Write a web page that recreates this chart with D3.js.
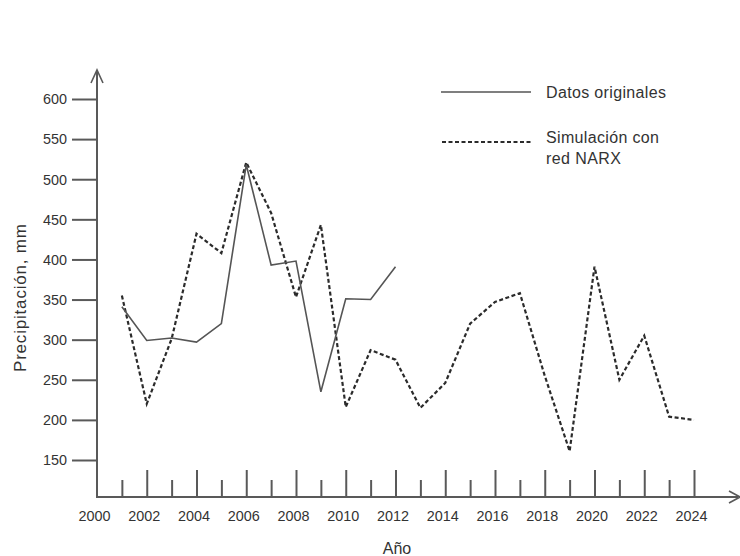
<!DOCTYPE html>
<html>
<head>
<meta charset="utf-8">
<script src="https://cdn.jsdelivr.net/npm/d3@7"></script>
<style>
  html, body { margin: 0; padding: 0; background: #fff; }
  svg { display: block; }
  text { font-family: "Liberation Sans", Arial, sans-serif; fill: #333; }
</style>
</head>
<body>
<svg id="chart" width="740" height="556"></svg>
<script>
// ---- Data ----
const originalYears = [2001, 2002, 2003, 2004, 2005, 2006, 2007, 2008, 2009, 2010, 2011, 2012];
const originalValues = [341, 299, 302, 297, 320, 518, 393, 398, 235, 351, 350, 391];

const simulatedYears = [2001, 2002, 2003, 2004, 2005, 2006, 2007, 2008, 2009, 2010, 2011, 2012,
                        2013, 2014, 2015, 2016, 2017, 2018, 2019, 2020, 2021, 2022, 2023, 2024];
const simulatedValues = [355, 220, 301, 432, 408, 521, 458, 353, 443, 216, 287, 275,
                         215, 246, 320, 347, 358, 255, 161, 391, 250, 305, 204, 200];

const yTickValues = [150, 200, 250, 300, 350, 400, 450, 500, 550, 600];
const xMajorTicks = [2002, 2004, 2006, 2008, 2010, 2012, 2014, 2016, 2018, 2020, 2022, 2024];
const xMinorTicks = [2001, 2003, 2005, 2007, 2009, 2011, 2013, 2015, 2017, 2019, 2021, 2023];
const xLabelValues = [2000, 2002, 2004, 2006, 2008, 2010, 2012, 2014, 2016, 2018, 2020, 2022, 2024];

const legendLabels = [["Datos originales"], ["Simulación con", "red NARX"]];
const xTitle = "Año";
const yTitle = "Precipitación, mm";

// ---- Layout ----
const svg = d3.select("#chart");
const axisColor = "#595959";
const x0 = 97, xAxisY = 497;

const x = d3.scaleLinear().domain([2000, 2024]).range([97, 694]);
const y = d3.scaleLinear().domain([150, 600]).range([460, 99]);

// Y axis line with open arrow
svg.append("line").attr("x1", x0).attr("x2", x0).attr("y1", xAxisY).attr("y2", 70)
  .attr("stroke", axisColor).attr("stroke-width", 2);
svg.append("path").attr("d", `M${x0-6},83 L${x0},70 L${x0+6},83`)
  .attr("fill", "none").attr("stroke", axisColor).attr("stroke-width", 1.6);

// X axis line with open arrow
svg.append("line").attr("x1", x0 - 1).attr("x2", 738).attr("y1", xAxisY).attr("y2", xAxisY)
  .attr("stroke", axisColor).attr("stroke-width", 2);
svg.append("path").attr("d", `M729,${xAxisY-6} L740,${xAxisY} L729,${xAxisY+6}`)
  .attr("fill", "none").attr("stroke", axisColor).attr("stroke-width", 1.6);

// Y axis ticks + labels
const yAxis = svg.append("g").attr("transform", `translate(${x0},0)`)
  .call(d3.axisLeft(y).tickValues(yTickValues).tickSize(25).tickPadding(5));
yAxis.select(".domain").remove();
yAxis.selectAll(".tick line").attr("stroke", axisColor).attr("stroke-width", 2);
yAxis.selectAll(".tick text").style("font-size", "15px").attr("fill", "#333")
  .attr("textLength", 24).attr("lengthAdjust", "spacingAndGlyphs")
  .style("font-family", "'Liberation Sans', Arial, sans-serif");

// X axis ticks (upward)
const xMaj = svg.append("g").attr("transform", `translate(0,${xAxisY})`)
  .call(d3.axisTop(x).tickValues(xMajorTicks).tickSize(27).tickFormat(""));
xMaj.select(".domain").remove();
xMaj.selectAll(".tick line").attr("stroke", axisColor).attr("stroke-width", 2);

const xMin = svg.append("g").attr("transform", `translate(0,${xAxisY})`)
  .call(d3.axisTop(x).tickValues(xMinorTicks).tickSize(17).tickFormat(""));
xMin.select(".domain").remove();
xMin.selectAll(".tick line").attr("stroke", axisColor).attr("stroke-width", 2);

// X labels
const xLab = svg.append("g").attr("transform", `translate(0,${xAxisY})`)
  .call(d3.axisBottom(x).tickValues(xLabelValues).tickSize(0).tickPadding(13).tickFormat(d3.format("d")));
xLab.select(".domain").remove();
xLab.selectAll(".tick text").style("font-size", "15px").attr("fill", "#333").attr("dx", -3)
  .attr("textLength", 32).attr("lengthAdjust", "spacingAndGlyphs")
  .style("font-family", "'Liberation Sans', Arial, sans-serif");

// Axis titles
svg.append("text").attr("x", 397).attr("y", 554).attr("text-anchor", "middle")
  .style("font-size", "16px").text(xTitle);
svg.append("text").attr("transform", "translate(26,298) rotate(-90)").attr("text-anchor", "middle")
  .style("font-size", "17px").attr("textLength", 148).attr("lengthAdjust", "spacing").text(yTitle);

// Lines
const line = d3.line().x(d => x(d[0])).y(d => y(d[1]));
const simData = simulatedYears.map((yr, i) => [yr, simulatedValues[i]]);
const origData = originalYears.map((yr, i) => [yr, originalValues[i]]);

svg.append("path").datum(simData).attr("d", line)
  .attr("fill", "none").attr("stroke", "#2b2b2b").attr("stroke-width", 2.2)
  .attr("stroke-dasharray", "4,2.5").attr("stroke-linejoin", "miter");

svg.append("path").datum(origData).attr("d", line)
  .attr("fill", "none").attr("stroke", "#555").attr("stroke-width", 1.6);

// Legend
const lg = svg.append("g");
lg.append("line").attr("x1", 441).attr("x2", 531).attr("y1", 92).attr("y2", 92)
  .attr("stroke", "#555").attr("stroke-width", 1.6);
lg.append("text").attr("x", 546).attr("y", 92).attr("dy", "0.35em")
  .style("font-size", "16px").attr("textLength", 120).attr("lengthAdjust", "spacing")
  .text(legendLabels[0][0]);

lg.append("line").attr("x1", 442).attr("x2", 531).attr("y1", 142).attr("y2", 142)
  .attr("stroke", "#2b2b2b").attr("stroke-width", 2).attr("stroke-dasharray", "4,2.5");
lg.append("text").attr("x", 546).attr("y", 137).attr("dy", "0.35em")
  .style("font-size", "16px").attr("textLength", 113).attr("lengthAdjust", "spacing")
  .text(legendLabels[1][0]);
lg.append("text").attr("x", 546).attr("y", 158).attr("dy", "0.35em")
  .style("font-size", "16px").attr("textLength", 75).attr("lengthAdjust", "spacing")
  .text(legendLabels[1][1]);
</script>
</body>
</html>
